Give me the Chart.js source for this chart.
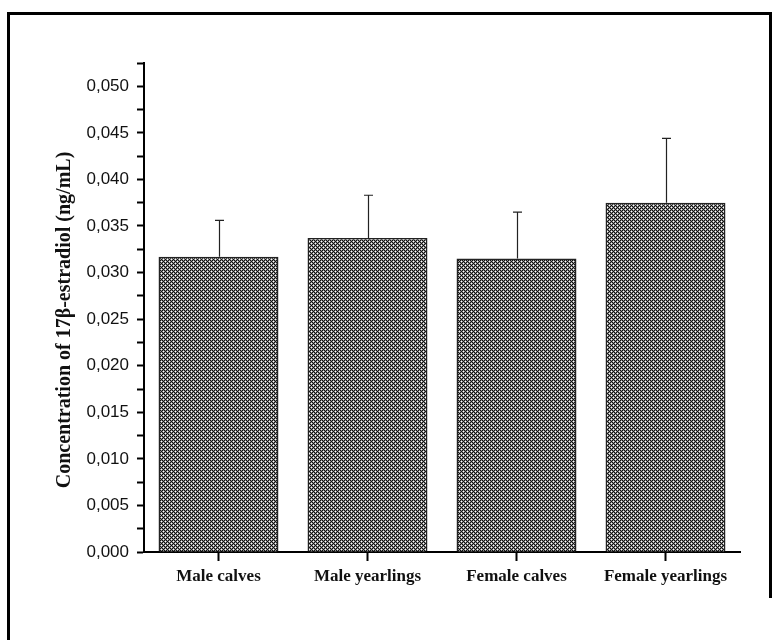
<!doctype html>
<html lang="en">

<head>
    <meta charset="utf-8" />
    <title>17b-estradiol</title>
    <script src="https://cdn.jsdelivr.net/npm/chart.js@4.4.1/dist/chart.umd.min.js"></script>
    <style>
        body {
            margin: 0;
            background: #fff;
        }
        #divchart {
            width: 775px;
            height: 640px;
        }
    </style>
</head>

<body>
    <div id="divchart">
        <canvas id="myChart" width="775" height="640"></canvas>
    </div>

    <script>
        // values
        const groups = ['Male calves', 'Male yearlings', 'Female calves', 'Female yearlings'];
        const means = [0.0317, 0.0337, 0.0315, 0.0375];
        const errors = [0.0039, 0.0046, 0.0050, 0.0069];
        const yTitle = 'Concentration of 17\u03B2-estradiol (ng/mL)';

        // cross hatch fill, 4x4 tile
        function makeHatch() {
            const c = document.createElement('canvas');
            c.width = 4;
            c.height = 4;
            const g = c.getContext('2d');
            const img = g.createImageData(4, 4);
            for (let y = 0; y < 4; y++) {
                for (let x = 0; x < 4; x++) {
                    let v = 15;
                    if ((x === 1 && y === 1) || (x === 3 && y === 3)) v = 255;
                    else if ((x + y) % 2 === 1) v = 140;
                    const i = (y * 4 + x) * 4;
                    img.data[i] = v;
                    img.data[i + 1] = v;
                    img.data[i + 2] = v;
                    img.data[i + 3] = 255;
                }
            }
            g.putImageData(img, 0, 0);
            return g.createPattern(c, 'repeat');
        }

        // outer frame + y title (the title sits a bit below the axis middle)
        const framePlugin = {
            id: 'frame',
            beforeDraw(chart) {
                const ctx = chart.ctx;
                ctx.save();
                ctx.fillStyle = '#fff';
                ctx.fillRect(0, 0, chart.width, chart.height);
                ctx.strokeStyle = '#000';
                ctx.lineWidth = 3;
                ctx.beginPath();
                ctx.moveTo(8.5, 640);
                ctx.lineTo(8.5, 13.5);
                ctx.lineTo(770.5, 13.5);
                ctx.lineTo(770.5, 598);
                ctx.stroke();

                ctx.translate(65, 320);
                ctx.rotate(-Math.PI / 2);
                ctx.fillStyle = '#111';
                ctx.font = 'bold 20px "Liberation Serif"';
                ctx.textAlign = 'center';
                ctx.textBaseline = 'middle';
                ctx.fillText(yTitle, 0, 0);
                ctx.restore();
            }
        };

        const errorBarPlugin = {
            id: 'errorBars',
            afterDatasetsDraw(chart) {
                const ctx = chart.ctx;
                const yScale = chart.scales.y;
                const meta = chart.getDatasetMeta(0);
                ctx.save();
                ctx.strokeStyle = '#222';
                ctx.lineWidth = 1.2;
                meta.data.forEach((bar, i) => {
                    const x = Math.round(bar.x) + 0.5;
                    const yTop = yScale.getPixelForValue(means[i] + errors[i]);
                    ctx.beginPath();
                    ctx.moveTo(x, bar.y);
                    ctx.lineTo(x, yTop);
                    ctx.moveTo(x - 4.5, yTop);
                    ctx.lineTo(x + 4.5, yTop);
                    ctx.stroke();
                });
                ctx.restore();
            }
        };

        const ctx = document.getElementById('myChart').getContext('2d');
        const myChart = new Chart(ctx, {
            type: 'bar',
            data: {
                labels: groups,
                datasets: [{
                    data: means,
                    backgroundColor: makeHatch(),
                    borderColor: '#222',
                    borderWidth: 1.5,
                    borderSkipped: 'bottom',
                    categoryPercentage: 1,
                    barPercentage: 0.805
                }]
            },
            options: {
                responsive: false,
                animation: false,
                layout: {
                    padding: { top: 63, right: 35, left: 0, bottom: 0 }
                },
                plugins: {
                    legend: { display: false },
                    tooltip: { enabled: false }
                },
                scales: {
                    x: {
                        afterFit(scale) { scale.height = 88; },
                        border: { display: true, color: '#000', width: 2 },
                        grid: {
                            offset: false,
                            drawOnChartArea: false,
                            drawTicks: true,
                            tickLength: 9,
                            tickWidth: 2,
                            tickColor: '#000'
                        },
                        ticks: {
                            color: '#111',
                            padding: 5,
                            font: { family: 'Liberation Serif', size: 17, weight: 'bold' }
                        }
                    },
                    y: {
                        min: 0,
                        max: 0.0525,
                        afterFit(scale) { scale.width = 144; },
                        border: { display: true, color: '#000', width: 2 },
                        grid: {
                            drawOnChartArea: false,
                            drawTicks: true,
                            tickLength: 7,
                            tickWidth: 2,
                            tickColor: '#000'
                        },
                        ticks: {
                            stepSize: 0.0025,
                            autoSkip: false,
                            color: '#111',
                            padding: 8,
                            font: { family: 'Liberation Sans', size: 17 },
                            callback(v) {
                                const k = v / 0.005;
                                if (Math.abs(k - Math.round(k)) > 1e-6) return '';
                                return v.toFixed(3).replace('.', ',');
                            }
                        }
                    }
                }
            },
            plugins: [framePlugin, errorBarPlugin]
        });
    </script>
</body>

</html>
